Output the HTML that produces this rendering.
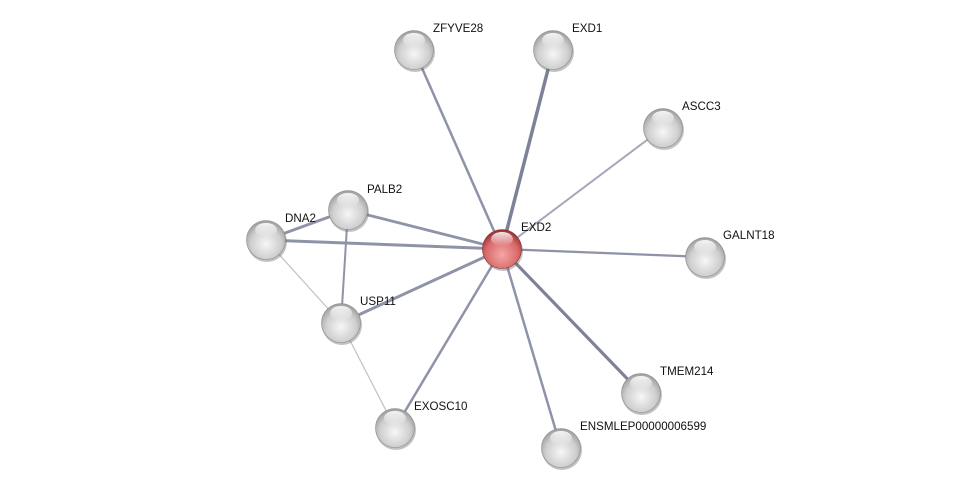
<!DOCTYPE html>
<html><head><meta charset="utf-8"><style>html,body{margin:0;padding:0;background:#fff}svg{display:block}text{font-family:"Liberation Sans",sans-serif;font-size:11.6px;fill:#111}</style></head><body>
<svg width="976" height="493" viewBox="0 0 976 493" xmlns="http://www.w3.org/2000/svg">
<defs>
<radialGradient id="g" cx="50%" cy="60%" r="60%"><stop offset="0" stop-color="#f6f6f6"/><stop offset="0.65" stop-color="#cfcfcf"/><stop offset="1" stop-color="#9a9a9a"/></radialGradient>
<radialGradient id="r" cx="50%" cy="65%" r="60%"><stop offset="0" stop-color="#f6a5a5"/><stop offset="0.7" stop-color="#d86a6a"/><stop offset="1" stop-color="#a03838"/></radialGradient>
<linearGradient id="hl" x1="0" y1="0" x2="0" y2="1"><stop offset="0" stop-color="#fff" stop-opacity="0.9"/><stop offset="1" stop-color="#fff" stop-opacity="0"/></linearGradient>
<g id="n"><circle r="20" fill="#666" opacity="0.4" cx="1" cy="2"/><circle r="19.5" fill="url(#g)" stroke="#8a8a8a" stroke-width="0.6"/><ellipse cx="0" cy="-10" rx="11" ry="7" fill="url(#hl)"/></g>
<g id="nr"><circle r="20" fill="#666" opacity="0.4" cx="1" cy="2"/><circle r="19.5" fill="url(#r)" stroke="#8a2a2a" stroke-width="0.6"/><ellipse cx="0" cy="-10" rx="11" ry="7" fill="url(#hl)"/></g>
</defs>
<g stroke="#8e93a8" stroke-linecap="round">
<line x1="502" y1="249" x2="414" y2="50" stroke-width="2.5"/>
<line x1="502" y1="249" x2="553" y2="50" stroke-width="3.5" stroke="#7d8299"/>
<line x1="502" y1="249" x2="663" y2="128" stroke-width="2" stroke="#a4a8ba"/>
<line x1="502" y1="249" x2="348" y2="210" stroke-width="2.8"/>
<line x1="502" y1="249" x2="266" y2="240" stroke-width="3"/>
<line x1="502" y1="249" x2="705" y2="257" stroke-width="2.3"/>
<line x1="502" y1="249" x2="341" y2="323" stroke-width="3"/>
<line x1="502" y1="249" x2="641" y2="393" stroke-width="3.2" stroke="#7d8299"/>
<line x1="502" y1="249" x2="395" y2="428" stroke-width="2.5"/>
<line x1="502" y1="249" x2="561" y2="448" stroke-width="2.5"/>
<line x1="266" y1="240" x2="348" y2="210" stroke-width="2.8"/>
<line x1="348" y1="210" x2="341" y2="323" stroke-width="2"/>
<line x1="266" y1="240" x2="341" y2="323" stroke-width="1.3" stroke="#c2c4cf"/>
<line x1="341" y1="323" x2="395" y2="428" stroke-width="1.3" stroke="#c2c4cf"/>
</g>
<use href="#n" x="414" y="50"/><use href="#n" x="553" y="50"/><use href="#n" x="663" y="128"/>
<use href="#n" x="348" y="210"/><use href="#n" x="266" y="240"/><use href="#n" x="705" y="257"/>
<use href="#n" x="341" y="323"/><use href="#n" x="641" y="393"/><use href="#n" x="395" y="428"/>
<use href="#n" x="561" y="448"/><use href="#nr" x="502" y="249"/>
<text x="433" y="32">ZFYVE28</text><text x="572" y="32">EXD1</text><text x="682" y="110">ASCC3</text>
<text x="367" y="193">PALB2</text><text x="285" y="222">DNA2</text><text x="521" y="231">EXD2</text>
<text x="723" y="239">GALNT18</text><text x="360" y="305">USP11</text><text x="660" y="375">TMEM214</text>
<text x="414" y="410">EXOSC10</text><text x="580" y="430">ENSMLEP00000006599</text>
</svg>
</body></html>
